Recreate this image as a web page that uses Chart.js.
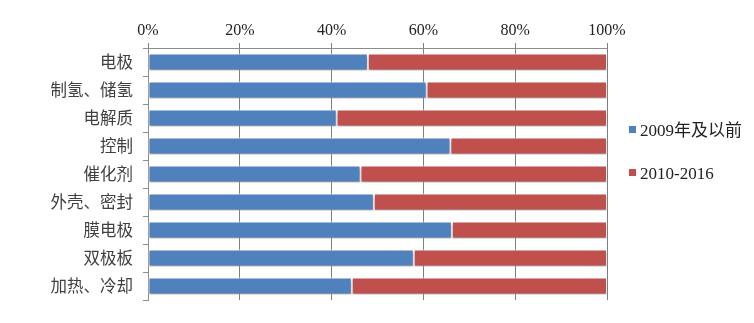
<!DOCTYPE html>
<html>
<head>
<meta charset="utf-8">
<script src="https://cdn.jsdelivr.net/npm/chart.js@4/dist/chart.umd.min.js"></script>
<style>
  html, body { margin: 0; padding: 0; background: #fff; }
  #wrap { position: relative; width: 754px; height: 323px; }
  canvas { position: absolute; left: 0; top: 0; }
  .leg { position: absolute; left: 629px; font: 17px 'Liberation Serif', 'Noto Sans CJK SC', serif; color: #222; white-space: nowrap; line-height: 20px; }
  .leg span.m { display: inline-block; width: 7px; height: 7px; margin-right: 4px; vertical-align: 3px; }
</style>
</head>
<body>
<div id="wrap">
  <canvas id="c" width="754" height="323"></canvas>
</div>
<script>
const categories = ['电极', '制氢、储氢', '电解质', '控制', '催化剂', '外壳、密封', '膜电极', '双极板', '加热、冷却'];
const seriesNames = ['2009年及以前', '2010-2016'];
const before2009 = [47.9, 60.7, 41.1, 65.9, 46.3, 49.2, 66.2, 57.9, 44.4];
const from2010 = [52.1, 39.3, 58.9, 34.1, 53.7, 50.8, 33.8, 42.1, 55.6];
const xTicks = [0, 20, 40, 60, 80, 100];
const colors = ['#4F81BD', '#C0504D'];

const shadowPlugin = {
  id: 'barShadow',
  beforeDatasetsDraw(chart) {
    const ctx = chart.ctx;
    ctx.save();
    ctx.shadowColor = 'rgba(0,0,0,0.35)';
    ctx.shadowBlur = 2;
    ctx.shadowOffsetX = 0;
    ctx.shadowOffsetY = 2;
  },
  afterDatasetsDraw(chart) {
    chart.ctx.restore();
  }
};

const chart = new Chart(document.getElementById('c'), {
  type: 'bar',
  data: {
    labels: categories,
    datasets: [
      { label: seriesNames[0], data: before2009, backgroundColor: colors[0], borderColor: '#fff', borderWidth: 1, borderSkipped: false },
      { label: seriesNames[1], data: from2010, backgroundColor: colors[1], borderColor: '#fff', borderWidth: 1, borderSkipped: false }
    ]
  },
  options: {
    responsive: false,
    animation: false,
    indexAxis: 'y',
    layout: { padding: { left: 0, right: 147, top: 0, bottom: 23 } },
    plugins: { legend: { display: false }, tooltip: { enabled: false } },
    datasets: { bar: { categoryPercentage: 1, barPercentage: 0.6 } },
    scales: {
      x: {
        position: 'top',
        stacked: true,
        min: 0, max: 100,
        afterBuildTicks(scale) { scale.ticks = xTicks.map(v => ({ value: v })); },
        afterFit(scale) { scale.height = 48; },
        ticks: {
          callback: v => v + '%',
          color: '#222',
          padding: 3,
          maxRotation: 0,
          font: { family: "'Liberation Serif', serif", size: 16 }
        },
        grid: { color: '#7f7f7f', lineWidth: 1, tickLength: 5 },
        border: { color: '#8c8c8c', width: 1 }
      },
      y: {
        stacked: true,
        afterFit(scale) { scale.width = 148; },
        ticks: {
          color: '#404040',
          padding: 10,
          font: { family: "'Noto Sans CJK SC', sans-serif", size: 16.5 }
        },
        grid: { drawOnChartArea: false, color: '#8c8c8c', tickLength: 5, offset: true },
        border: { color: '#8c8c8c', width: 1 }
      }
    }
  },
  plugins: [shadowPlugin]
});

// HTML legend built from the series
const wrap = document.getElementById('wrap');
const legTops = [121, 164];
seriesNames.forEach((name, i) => {
  const d = document.createElement('div');
  d.className = 'leg';
  d.style.top = legTops[i] + 'px';
  const m = document.createElement('span');
  m.className = 'm';
  m.style.background = colors[i];
  d.appendChild(m);
  d.appendChild(document.createTextNode(name));
  wrap.appendChild(d);
});
</script>
</body>
</html>
